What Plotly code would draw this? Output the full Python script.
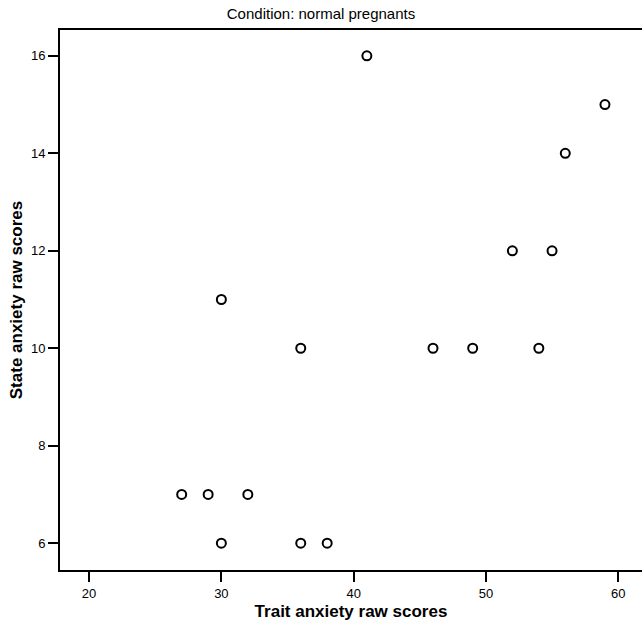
import plotly.graph_objects as go

trait = [27, 29, 30, 30, 32, 36, 36, 38, 41, 46, 49, 52, 54, 55, 56, 59]
state = [7, 7, 6, 11, 7, 10, 6, 6, 16, 10, 10, 12, 10, 12, 14, 15]
x_ticks = [20, 30, 40, 50, 60]
y_ticks = [6, 8, 10, 12, 14, 16]

fig = go.Figure()
fig.add_trace(go.Scatter(
    x=trait, y=state, mode="markers",
    marker=dict(symbol="circle-open", size=9, color="black", line=dict(width=2, color="black")),
    showlegend=False,
))

font_family = "Liberation Sans, Arial, sans-serif"
fig.update_layout(
    width=642, height=630,
    margin=dict(l=60, r=0, t=30, b=60),
    paper_bgcolor="white", plot_bgcolor="white",
    font=dict(family=font_family, color="black"),
    title=dict(text="Condition: normal pregnants", x=0.5, xanchor="center",
               y=0.978, yanchor="middle", font=dict(size=15, color="black", family=font_family)),
    xaxis=dict(
        range=[17.8, 61.8], tickvals=x_ticks, ticks="outside", ticklen=10, tickwidth=2,
        tickcolor="black", showline=True, linecolor="black", linewidth=2, mirror=True,
        showgrid=False, zeroline=False, tickfont=dict(size=13),
        title=dict(text="<b>Trait anxiety raw scores</b>", font=dict(size=17), standoff=6),
    ),
    yaxis=dict(
        range=[5.45, 16.53], tickvals=y_ticks, ticks="outside", ticklen=10, tickwidth=1.5,
        tickcolor="black", showline=True, linecolor="black", linewidth=2, mirror=False,
        showgrid=False, zeroline=False, tickfont=dict(size=13),
        title=dict(text="<b>State anxiety raw scores</b>", font=dict(size=17), standoff=4),
    ),
)

fig.write_html("out.html")
